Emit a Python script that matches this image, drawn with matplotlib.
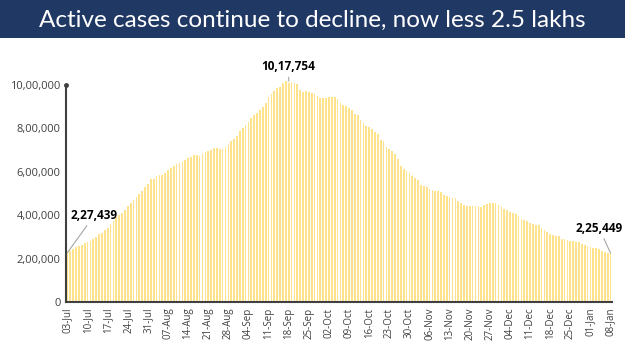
import matplotlib
matplotlib.use("Agg")
import matplotlib.pyplot as plt
import numpy as np
import pandas as pd

# ---- data ----
start_date = "2020-07-03"
active_jul = [227439, 235433, 244814, 253287, 259557, 264944, 269789, 276882, 283407, 292258,
              301609, 311565, 319840, 331146, 342473, 358692, 373379, 390459, 402529, 411133,
              426167, 440135, 456071, 467882, 485114, 496988, 509447, 528242, 545318]
active_aug = [565103, 567730, 579357, 586298, 586244, 595501, 607384, 619088, 628747, 634945,
              639929, 643948, 653622, 661595, 668220, 676514, 676900, 673166, 681000, 692028,
              697330, 699500, 707668, 710771, 704348, 707267, 714000, 725991, 742023, 752424,
              765302]
active_sep = [785996, 801282, 815538, 831124, 846395, 862320, 870000, 883697, 897394, 919018,
              943480, 958316, 973175, 986598, 990061, 1009976, 1017754, 1010824, 1013964, 1009000,
              1003299, 975861, 968377, 970116, 966382, 960969, 956402, 947576, 940705, 940441]
active_oct = [942217, 944996, 946000, 944000, 937625, 919023, 907883, 902425, 893592, 883185,
              867496, 861853, 838729, 826876, 812390, 804528, 795087, 783311, 772055, 748538,
              740090, 715812, 703202, 695509, 680680, 658000, 625857, 610803, 603687, 594386,
              582649]
active_nov = [570458, 561908, 541405, 533787, 527962, 520773, 516632, 512665, 509673, 505265,
              494657, 489294, 484547, 480719, 479216, 465478, 453956, 445805, 443794, 443303,
              440962, 443486, 441000, 438667, 444746, 452344, 454940, 455555, 453956, 446952]
active_dec = [435603, 428644, 422943, 416082, 409689, 403248, 396729, 383866, 378909, 372293,
              363749, 359819, 356546, 352586, 339820, 332002, 322366, 313831, 308751, 305344,
              303639, 292518, 289240, 283849, 281919, 280000, 278690, 277301, 268581, 262272,
              257656]
active_jan = [254254, 250183, 247220, 243953, 237000, 232000, 228083, 225449]

title = "Active cases continue to decline, now less 2.5 lakhs"
y_ticks = [0, 200000, 400000, 600000, 800000, 1000000]
y_tick_labels = ["0", "2,00,000", "4,00,000", "6,00,000", "8,00,000", "10,00,000"]
label_first = "2,27,439"
label_peak = "10,17,754"
label_last = "2,25,449"

values = active_jul + active_aug + active_sep + active_oct + active_nov + active_dec + active_jan
dates = pd.date_range(start_date, periods=len(values), freq="D")
x = np.arange(len(values))

W, H = 625, 351
fig = plt.figure(figsize=(W / 100, H / 100), dpi=100)
fig.patch.set_facecolor("white")

# banner
banner = fig.add_axes([0, 1 - 38 / H, 1, 38 / H])
banner.set_facecolor("#203864")
banner.set_xticks([]); banner.set_yticks([])
for s in banner.spines.values():
    s.set_visible(False)
banner.text(0.5, 0.47, title, color="white", fontsize=17.5, family="Lato",
            ha="center", va="center", transform=banner.transAxes)

# main axes
left, right = 66 / W, 612 / W
bottom, top = 1 - 302 / H, 1 - 85 / H
ax = fig.add_axes([left, bottom, right - left, top - bottom])
ax.bar(x, values, width=0.6, color="#FFE38C", clip_on=False, zorder=2)
ax.set_xlim(-0.5, len(values) - 0.5)
ax.set_ylim(0, 1000000)

for s in ["top", "right"]:
    ax.spines[s].set_visible(False)
for s in ["left", "bottom"]:
    ax.spines[s].set_color("#404040")
    ax.spines[s].set_linewidth(1.5)
    ax.spines[s].set_zorder(3)
ax.plot([0], [1.0], marker="o", ms=2.5, color="#404040", transform=ax.transAxes, clip_on=False)

ax.set_yticks(y_ticks)
ax.set_yticklabels(y_tick_labels, fontsize=8, color="#404040", family="Open Sans")
tick_idx = x[::7]
ax.set_xticks(tick_idx)
ax.set_xticklabels([dates[i].strftime("%d-%b") for i in tick_idx], rotation=90,
                   fontsize=7, color="#404040", family="Open Sans")
ax.tick_params(axis="both", length=0, pad=4)

# annotations
ipeak = int(np.argmax(values))
ann_kw = dict(fontsize=8.5, fontweight="bold", color="black", family="Open Sans",
              arrowprops=dict(arrowstyle="-", color="#A6A6A6", lw=0.8, shrinkA=1, shrinkB=0),
              annotation_clip=False)
ax.annotate(label_first, xy=(0, values[0]), xytext=(1.2, 400000), ha="left", va="center", **ann_kw)
ax.annotate(label_peak, xy=(ipeak + 1, values[ipeak]), xytext=(ipeak + 1, 1085000),
            ha="center", va="center", **ann_kw)
ax.annotate(label_last, xy=(len(values) - 1, values[-1]), xytext=(len(values) - 5, 340000),
            ha="center", va="center", **ann_kw)

fig.savefig("out.png", dpi=100, facecolor="white")
